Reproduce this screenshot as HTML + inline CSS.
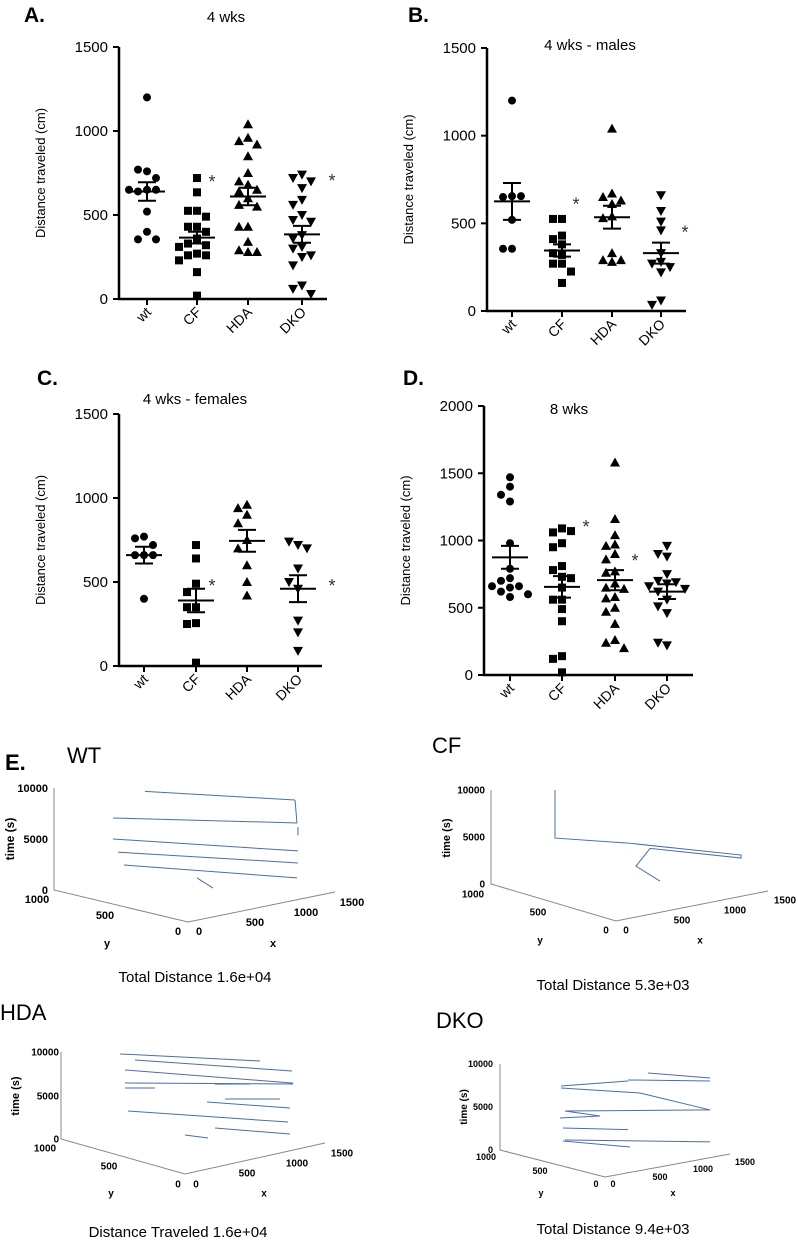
<!DOCTYPE html>
<html><head><meta charset="utf-8"><style>
html,body{margin:0;padding:0;background:#fff;}
svg{display:block;font-family:"Liberation Sans",Arial,sans-serif;}
</style></head><body>
<svg id="fig" width="798" height="1240" viewBox="0 0 798 1240" xmlns="http://www.w3.org/2000/svg">
<g font-weight="bold" font-size="21">
<text x="24" y="22">A.</text>
<text x="408" y="22">B.</text>
<text x="37" y="385">C.</text>
<text x="403" y="385">D.</text>
</g>
<g font-size="22">
<text x="5" y="770" font-weight="bold">E.</text>
<text x="67" y="763">WT</text>
<text x="432" y="753">CF</text>
<text x="0" y="1020">HDA</text>
<text x="436" y="1028">DKO</text>
</g>
<g font-size="15" text-anchor="middle">
<text x="195" y="982">Total Distance 1.6e+04</text>
<text x="613" y="990">Total Distance 5.3e+03</text>
<text x="178" y="1237">Distance Traveled 1.6e+04</text>
<text x="613" y="1234">Total Distance 9.4e+03</text>
</g>
</svg>
<script>
const cats=['wt','CF','HDA','DKO'];
// Panel A
const aWt=[1200,760,770,720,650,640,650,650,520,400,355,355];
const aCf=[720,635,525,525,490,430,430,400,360,330,320,310,270,260,260,230,160,20];
const aHda=[1040,960,940,920,850,750,700,680,650,640,600,560,550,430,430,340,290,280,280];
const aDko=[740,720,700,660,590,560,500,470,460,380,360,310,300,260,250,200,80,60,30];
const aMean=[640,365,610,385];
const aSem=[55,35,52,50];
// Panel B
const bWt=[1200,655,650,655,520,355,355];
const bCf=[525,525,430,410,380,320,330,270,270,225,160];
const bHda=[1040,670,650,630,610,540,530,330,290,280,290];
const bDko=[660,570,510,460,330,280,270,250,220,60,35];
const bMean=[625,345,535,330];
const bSem=[105,35,65,60];
// Panel C
const cWt=[770,760,720,660,660,660,400];
const cCf=[720,640,490,440,350,350,255,250,20];
const cHda=[960,940,900,850,750,700,600,500,420];
const cDko=[720,740,700,580,460,500,270,200,90];
const cMean=[660,390,745,460];
const cSem=[50,70,65,80];
// Panel D
const dWt=[1470,1400,1340,1290,980,790,720,700,660,650,660,620,600,580];
const dCf=[1090,1060,1070,980,950,810,780,730,720,650,560,560,490,400,140,120,20];
const dHda=[1580,1160,1040,970,960,900,860,770,760,680,650,640,580,570,500,470,380,260,240,200];
const dDko=[960,900,880,750,700,690,680,660,640,620,560,510,460,220,240];
const dMean=[875,655,705,620];
const dSem=[85,80,75,55];
const yTicks15=[0,500,1000,1500];
const yTicks20=[0,500,1000,1500,2000];

const NS='http://www.w3.org/2000/svg';
const svg=document.getElementById('fig');
function mk(tag,attrs,parent){const e=document.createElementNS(NS,tag);for(const k in attrs)e.setAttribute(k,attrs[k]);(parent||svg).appendChild(e);return e;}

function marker(g,type,x,y){
  let e;
  if(type===0){e=mk('circle',{cx:x,cy:y,r:4,fill:'#000'},g);}
  else if(type===1){e=mk('rect',{x:x-4,y:y-4,width:8,height:8,fill:'#000'},g);}
  else if(type===2){e=mk('polygon',{points:`${x},${y-5} ${x-5},${y+4} ${x+5},${y+4}`,fill:'#000'},g);}
  else {e=mk('polygon',{points:`${x},${y+5} ${x-5},${y-4} ${x+5},${y-4}`,fill:'#000'},g);}
  
  
}

function scatterPanel(cfg){
  const g=mk('g',{});
  
  
  const ys=v=>cfg.y0-v*(cfg.y0-cfg.yTop)/cfg.yMax;
  const ax=mk('line',{x1:cfg.ax,y1:cfg.yTop,x2:cfg.ax,y2:cfg.y0+1,stroke:'#000','stroke-width':2.5},g);
  
  
  const bx=mk('line',{x1:cfg.ax-1,y1:cfg.y0,x2:cfg.xEnd,y2:cfg.y0,stroke:'#000','stroke-width':2.5},g);
  
  
  cfg.ticks.forEach(t=>{
    const y=ys(t);
    mk('line',{x1:cfg.ax-6,y1:y,x2:cfg.ax,y2:y,stroke:'#000','stroke-width':2},g);
    const tx=mk('text',{x:cfg.ax-11,y:y+5,'font-size':15,'text-anchor':'end'},g);
    tx.textContent=t;
    
    
  });
  const yt=mk('text',{x:0,y:0,'font-size':13,'text-anchor':'middle',transform:`translate(${cfg.ax-74},${(cfg.y0+cfg.yTop)/2}) rotate(-90)`},g);
  yt.textContent='Distance traveled (cm)';
  
  
  const ti=mk('text',{x:cfg.titleX,y:cfg.titleY,'font-size':15,'text-anchor':'middle'},g);
  ti.textContent=cfg.title;
  
  
  cats.forEach((c,i)=>{
    const cx=cfg.cx[i];
    mk('line',{x1:cx,y1:cfg.y0,x2:cx,y2:cfg.y0+6,stroke:'#000','stroke-width':2},g);
    const lt=mk('text',{x:0,y:0,'font-size':14,'text-anchor':'end',transform:`translate(${cx+5},${cfg.y0+14}) rotate(-45)`},g);
    lt.textContent=c;
    
    
    const placed=[];
    const offs=[0,-9,9,-18,18,-27,27,-36,36];
    cfg.series[i].forEach(v=>{
      const y=ys(v);
      let ox=0;
      for(const o of offs){ if(!placed.some(p=>Math.abs(p[0]-o)<8.5&&Math.abs(p[1]-y)<8.5)){ox=o;break;} }
      placed.push([ox,y]);
      marker(g,i,cx+ox,y);
    });
    const m=ys(cfg.mean[i]),lo=ys(cfg.mean[i]-cfg.sem[i]),hi=ys(cfg.mean[i]+cfg.sem[i]);
    const ml=mk('line',{x1:cx-18,y1:m,x2:cx+18,y2:m,stroke:'#000','stroke-width':2},g);
    
    
    mk('line',{x1:cx,y1:hi,x2:cx,y2:lo,stroke:'#000','stroke-width':2},g);
    mk('line',{x1:cx-9,y1:hi,x2:cx+9,y2:hi,stroke:'#000','stroke-width':2},g);
    mk('line',{x1:cx-9,y1:lo,x2:cx+9,y2:lo,stroke:'#000','stroke-width':2},g);
  });
  cfg.stars.forEach(s=>{
    const st=mk('text',{x:cfg.cx[s[0]]+s[2],y:ys(s[1])+10,'font-size':18,'text-anchor':'middle',fill:'#333'},g);
    st.textContent='*';
    
    
  });
}

scatterPanel({name:'panel-a-chart',ax:119,y0:299,yTop:47,yMax:1500,xEnd:327,cx:[147,197,248,302],ticks:yTicks15,title:'4 wks',titleX:226,titleY:22,series:[aWt,aCf,aHda,aDko],mean:aMean,sem:aSem,stars:[[1,720,15],[3,725,30]]});
scatterPanel({name:'panel-b-chart',ax:487,y0:311,yTop:48,yMax:1500,xEnd:686,cx:[512,562,612,661],ticks:yTicks15,title:'4 wks - males',titleX:590,titleY:50,series:[bWt,bCf,bHda,bDko],mean:bMean,sem:bSem,stars:[[1,630,14],[3,470,24]]});
scatterPanel({name:'panel-c-chart',ax:119,y0:666,yTop:414,yMax:1500,xEnd:322,cx:[144,196,247,298],ticks:yTicks15,title:'4 wks - females',titleX:195,titleY:404,series:[cWt,cCf,cHda,cDko],mean:cMean,sem:cSem,stars:[[1,500,16],[3,500,34]]});
scatterPanel({name:'panel-d-chart',ax:484,y0:675,yTop:406,yMax:2000,xEnd:693,cx:[510,562,615,667],ticks:yTicks20,title:'8 wks',titleX:569,titleY:414,series:[dWt,dCf,dHda,dDko],mean:dMean,sem:dSem,stars:[[1,1130,24],[2,877,20]]});

// 3D trajectories: each sweep [x0,y0,t0,x1,y1,t1]
const wtSweeps=[[0,321,11800,1092,0,9820],[0,560,8440,1112,0,7530],[0,560,6380,1122,0,4770],[0,522,5210,1122,0,3590],[0,478,4090,1112,0,2140],[92,0,4140,255,0,2830],[1092,0,9820,1112,0,7530],[1122,0,7100,1122,0,6300]];
const cfPath=[[0,488,12010],[0,488,6900],[118,0,8040],[1234,0,4390],[1234,0,4075],[336,0,7010],[197,0,5415],[434,0,3330]];
const hdaSweeps=[[0,524,11690,804,0,11080],[0,403,11480,1147,0,9115],[0,484,10010,1158,0,7700],[0,484,8520,1158,0,7590],[0,484,7945,0,242,8910],[322,0,9570,697,0,8690],[236,0,7710,1125,0,4910],[429,0,7600,1018,0,6200],[0,460,5390,1104,0,3350],[322,0,4520,1125,0,1920],[0,0,4480,247,0,3550]];
const dkoSweeps=[[516,0,11170,1261,0,9270],[276,0,10790,1261,0,8920],[0,419,9270,276,0,10670],[0,419,9040,420,0,9020],[420,0,9020,1261,0,5550],[0,381,6480,1261,0,5550],[0,48,6940,0,381,6480],[0,400,4440,276,0,5010],[0,381,3110,1261,0,1830],[0,400,2930,300,0,2950],[0,429,5510,0,48,6940]];

function panel3d(cfg){
  const g=mk('g',{});
  
  
  const P=(x,y,t)=>[cfg.bx+cfg.xv[0]*x/1500+cfg.yv[0]*y/1000, cfg.by+cfg.xv[1]*x/1500+cfg.yv[1]*y/1000-cfg.tv*t/10000];
  const o=P(0,0,0),xe=P(1500,0,0),ye=P(0,1000,0),te=P(0,1000,10000);
  mk('polyline',{points:`${xe[0]},${xe[1]} ${o[0]},${o[1]} ${ye[0]},${ye[1]} ${te[0]},${te[1]}`,fill:'none',stroke:'#888','stroke-width':1},g);
  cfg.sweeps.forEach(s=>{
    const a=P(s[0],s[1],s[2]),b=P(s[3],s[4],s[5]);
    const l=mk('line',{x1:a[0],y1:a[1],x2:b[0],y2:b[1],stroke:'#4a6fa5','stroke-width':1},g);
    
    
  });
  if(cfg.path){
    const pts=cfg.path.map(p=>P(p[0],p[1],p[2]).join(',')).join(' ');
    const pl=mk('polyline',{points:pts,fill:'none',stroke:'#4a6fa5','stroke-width':1},g);
    
    
  }
  const fs=cfg.fs;
  cfg.labels.forEach(L=>{
    const t=mk('text',{x:L[1],y:L[2]+fs*0.36,'font-size':fs,'font-weight':'bold','text-anchor':L[3]||'middle'},g);
    t.textContent=L[0];
    
    
  });
  const tl=mk('text',{x:0,y:0,'font-size':fs+1,'font-weight':'bold','text-anchor':'middle',transform:`translate(${cfg.timeX+4},${cfg.timeY}) rotate(-90)`},g);
  tl.textContent='time (s)';
  
  
}

panel3d({name:'wt-trajectory',bx:188,by:922,xv:[147,-30],yv:[-134,-32],tv:102,sweeps:wtSweeps,fs:11,timeX:10,timeY:839,
 labels:[['10000',48,788,'end'],['5000',48,839,'end'],['0',48,890,'end'],['1000',37,899],['500',105,915],['0',178,931],['0',199,931],['500',255,922],['1000',306,912],['1500',352,902],['y',107,943],['x',273,943]]});
panel3d({name:'cf-trajectory',bx:616,by:921,xv:[152,-30],yv:[-125,-37],tv:94,sweeps:[],path:cfPath,fs:10,timeX:446,timeY:838,
 labels:[['10000',485,790,'end'],['5000',485,837,'end'],['0',485,884,'end'],['1000',473,894],['500',538,912],['0',606,930],['0',626,930],['500',682,920],['1000',735,910],['1500',785,900],['y',540,940],['x',700,940]]});
panel3d({name:'hda-trajectory',bx:185,by:1174,xv:[140,-31],yv:[-124,-35],tv:87,sweeps:hdaSweeps,fs:10,timeX:15,timeY:1096,
 labels:[['10000',59,1052,'end'],['5000',59,1096,'end'],['0',59,1139,'end'],['1000',45,1148],['500',109,1166],['0',178,1184],['0',196,1184],['500',247,1173],['1000',297,1163],['1500',342,1153],['y',111,1193],['x',264,1193]]});
panel3d({name:'dko-trajectory',bx:605,by:1177,xv:[125,-23],yv:[-105,-27],tv:86,sweeps:dkoSweeps,fs:9,timeX:463,timeY:1107,
 labels:[['10000',493,1064,'end'],['5000',493,1107,'end'],['0',493,1150,'end'],['1000',486,1157],['500',540,1171],['0',596,1184],['0',613,1184],['500',660,1177],['1000',703,1169],['1500',745,1162],['y',541,1193],['x',673,1193]]});
</script>
</body></html>
